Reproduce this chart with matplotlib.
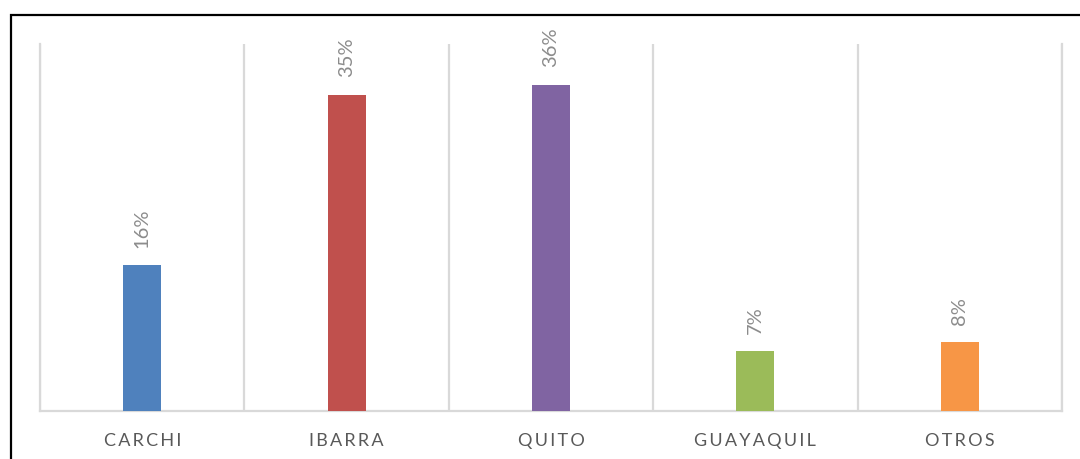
import matplotlib.pyplot as plt
from matplotlib.patches import Rectangle

# data
ciudades = ['CARCHI', 'IBARRA', 'QUITO', 'GUAYAQUIL', 'OTROS']
porcentajes = [0.161, 0.349, 0.36, 0.066, 0.076]
colores = ['#4F81BD', '#C0504D', '#8064A2', '#9BBB59', '#F79646']

plt.rcParams['font.family'] = ['Lato', 'DejaVu Sans']

W, H = 1080, 459
fig = plt.figure(figsize=(W / 100, H / 100), dpi=100)
ax = fig.add_axes([40 / W, 1 - 411 / H, (1062 - 40) / W, (411 - 44) / H])

x = list(range(len(ciudades)))
bars = ax.bar(x, porcentajes, width=0.186, color=colores, zorder=3)

# data labels, rotated
for b, v in zip(bars, porcentajes):
    ax.annotate('%d%%' % round(v * 100),
                (b.get_x() + b.get_width() / 2, b.get_height()),
                xytext=(0, 12.5), textcoords='offset points',
                rotation=90, ha='center', va='bottom',
                fontsize=14.5, color='#8C8C8C')

ax.set_xlim(-0.5, len(ciudades) - 0.5)
ax.set_ylim(0, 0.405)

# vertical separators between categories
grid_c = '#D9D9D9'
for i in range(len(ciudades) + 1):
    ax.axvline(i - 0.5, color=grid_c, lw=1.6, zorder=1)
ax.spines['top'].set_visible(False)
for s in ['left', 'right', 'bottom']:
    ax.spines[s].set_color(grid_c)
    ax.spines[s].set_linewidth(1.6)

ax.set_yticks([])
ax.set_xticks(x)
ax.set_xticklabels(['\u2009'.join(c) for c in ciudades],
                   fontsize=13, color='#595959')
ax.tick_params(axis='x', length=0, pad=16)

# outer black frame (cut off at right/bottom)
top = 1 - 15 / H
fig.patches.append(Rectangle((10.5 / W, -0.2), 1.2, top + 0.2,
                             transform=fig.transFigure, fill=False,
                             edgecolor='black', lw=1.6))

fig.savefig('out.png', dpi=100)
